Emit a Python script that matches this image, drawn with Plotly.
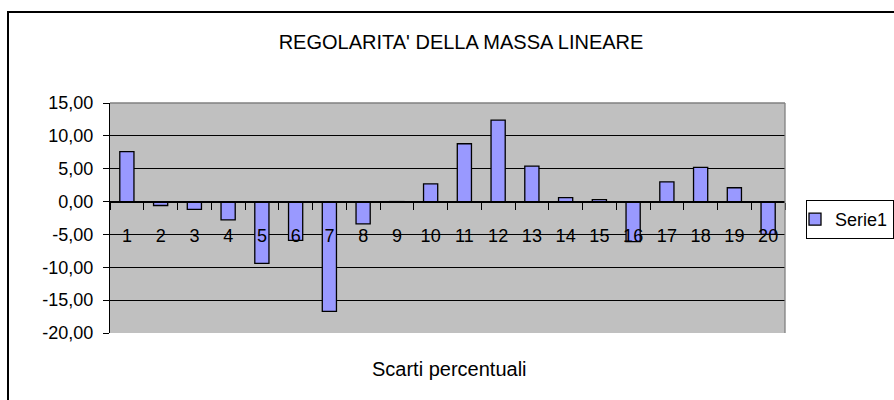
import plotly.graph_objects as go

categories = ["1", "2", "3", "4", "5", "6", "7", "8", "9", "10",
              "11", "12", "13", "14", "15", "16", "17", "18", "19", "20"]
serie1 = [7.6, -0.6, -1.2, -2.8, -9.4, -5.9, -16.7, -3.4, -0.1, 2.7,
          8.8, 12.4, 5.4, 0.6, 0.3, -6.1, 3.0, 5.2, 2.1, -5.0]
y_tickvals = [-20, -15, -10, -5, 0, 5, 10, 15]
y_ticktext = ["-20,00", "-15,00", "-10,00", "-5,00", "0,00", "5,00", "10,00", "15,00"]

title_text = "REGOLARITA' DELLA MASSA LINEARE"
xtitle_text = "Scarti percentuali"

W, H = 894, 400
ML, MR, MT, MB = 110, 109, 103, 67
PW, PH = W - ML - MR, H - MT - MB


def px_to_paper_x(px):
    return (px - ML) / PW


def px_to_paper_y(py):
    return (H - MB - py) / PH


FONT = "Liberation Sans, Arial, sans-serif"

fig = go.Figure()
fig.add_trace(go.Bar(
    x=categories, y=serie1, name="Serie1",
    marker=dict(color="#9999FF", line=dict(color="black", width=1.3)),
))

ymin, ymax = -20, 15
fig.update_layout(
    width=W, height=H, autosize=False,
    margin=dict(l=ML, r=MR, t=MT, b=MB, autoexpand=False),
    paper_bgcolor="white",
    plot_bgcolor="#C0C0C0",
    bargap=0.58,
    font=dict(family=FONT, color="black", size=18),
    title=dict(text=title_text, x=461 / W, xref="container", xanchor="center",
               y=1 - 42 / H, yref="container", yanchor="middle",
               font=dict(family=FONT, size=20, color="black")),
    showlegend=True,
    legend=dict(x=px_to_paper_x(806), y=px_to_paper_y(200), xanchor="left", yanchor="top",
                bgcolor="white", bordercolor="black", borderwidth=1,
                indentation=-12, itemwidth=30,
                font=dict(family=FONT, size=18, color="black")),
    yaxis=dict(range=[ymin, ymax], tickvals=y_tickvals, ticktext=y_ticktext,
               showline=True, linecolor="black", linewidth=1.3,
               ticks="outside", ticklen=6, tickcolor="black", tickwidth=1.3,
               showgrid=True, gridcolor="black", gridwidth=1.3, zeroline=False,
               ticklabelstandoff=6, automargin=False,
               tickfont=dict(family=FONT, size=18, color="black")),
    xaxis=dict(type="category", anchor="free", position=(0 - ymin) / (ymax - ymin),
               showline=True, linecolor="black", linewidth=1.3,
               ticks="outside", tickson="boundaries", ticklen=7, tickcolor="black",
               tickwidth=1.3, automargin=False,
               showgrid=False, zeroline=False, ticklabelstandoff=18,
               tickfont=dict(family=FONT, size=18, color="black")),
    annotations=[dict(text=xtitle_text, x=px_to_paper_x(450), y=px_to_paper_y(369),
                      xref="paper", yref="paper", xanchor="center", yanchor="middle",
                      showarrow=False, font=dict(family=FONT, size=20, color="black"))],
    shapes=[
        dict(type="line", xref="paper", yref="paper", x0=0, x1=1, y0=1, y1=1,
             line=dict(color="#808080", width=1.3), layer="above"),
        dict(type="line", xref="paper", yref="paper", x0=1, x1=1, y0=0, y1=1,
             line=dict(color="#808080", width=1.3), layer="above"),
        dict(type="rect", xref="paper", yref="paper",
             x0=px_to_paper_x(8), x1=px_to_paper_x(905),
             y0=px_to_paper_y(410), y1=px_to_paper_y(12),
             line=dict(color="black", width=2), fillcolor="rgba(0,0,0,0)", layer="above"),
    ],
)

post = ("document.documentElement.style.margin='0';"
        "document.documentElement.style.overflow='hidden';"
        "document.body.style.margin='0';"
        "document.body.style.padding='0';"
        "document.body.style.overflow='hidden';")

fig.write_html("out.html", post_script=post,
               config={"responsive": False, "displayModeBar": False})
